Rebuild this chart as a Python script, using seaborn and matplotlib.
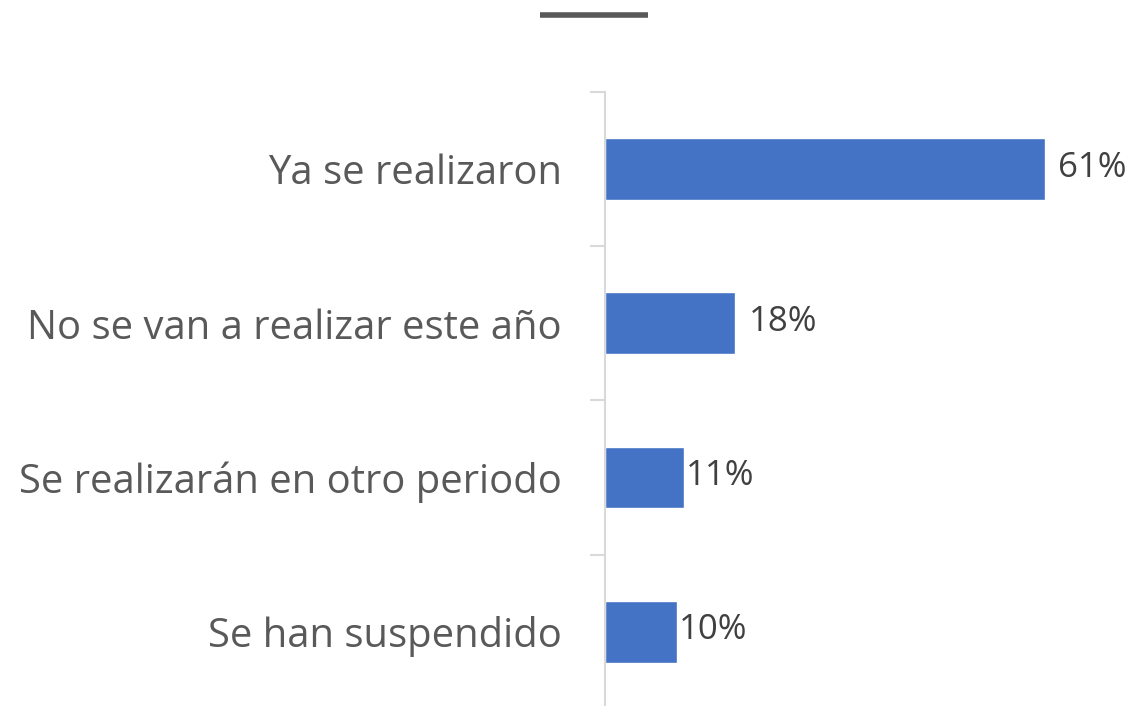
import matplotlib
matplotlib.use("Agg")
import matplotlib.pyplot as plt
import seaborn as sns
import pandas as pd
from matplotlib.lines import Line2D

# Data
categories = ["Ya se realizaron", "No se van a realizar este año",
              "Se realizarán en otro periodo", "Se han suspendido"]
values = [61, 18, 11, 10]

df = pd.DataFrame({"categoria": categories, "valor": values})

sns.set_style("white")
plt.rcParams["font.family"] = ["Open Sans", "DejaVu Sans"]

fig = plt.figure(figsize=(11.35, 7.06), dpi=100)
ax = fig.add_axes([0.533, -0.0042, 0.445, 0.874])

sns.barplot(data=df, y="categoria", x="valor", color="#4472C4",
            width=0.4, orient="h", ax=ax, saturation=1)

ax.set_xlim(0, 70)
ax.set_ylim(3.5, -0.5)

# value labels
label_pad = [9, 10, 1, 1]
for i, v in enumerate(values):
    ax.annotate(f"{v}%", (v, i), xytext=(label_pad[i], 1),
                textcoords="offset points", va="center", ha="left",
                fontsize=25, color="#404040")

# axis styling
for s in ["top", "right", "bottom"]:
    ax.spines[s].set_visible(False)
ax.spines["left"].set_color("#D9D9D9")
ax.spines["left"].set_linewidth(1.5)
ax.set_xticks([])
ax.set_xlabel("")
ax.set_ylabel("")
ax.set_yticks(range(len(categories)))
ax.set_yticklabels(categories, fontsize=28.8, color="#595959")
ax.tick_params(axis="y", which="major", length=0, pad=31)
ax.set_yticks([-0.5, 0.5, 1.5, 2.5, 3.5], minor=True)
ax.tick_params(axis="y", which="minor", length=11, width=1.5, color="#D9D9D9", left=True)

# short title bar on top
fig.add_artist(Line2D([540 / 1135, 648 / 1135], [1 - 15 / 706, 1 - 15 / 706],
                      color="#595959", linewidth=4, solid_capstyle="butt",
                      transform=fig.transFigure))

plt.savefig("out.png", dpi=100)
